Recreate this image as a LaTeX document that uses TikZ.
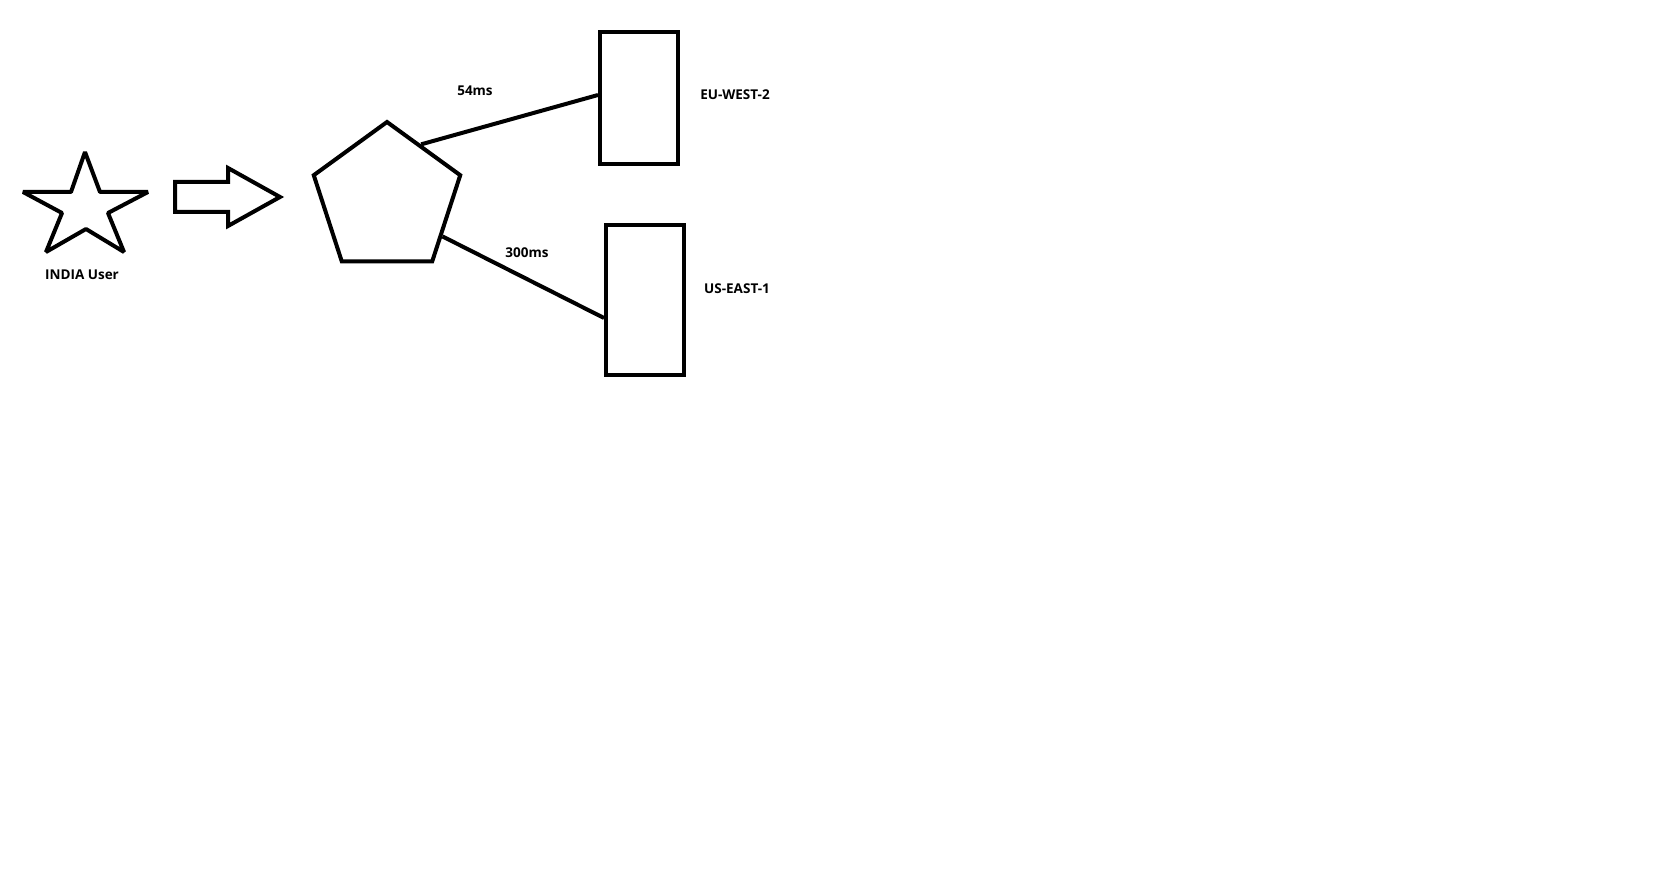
\documentclass[tikz,border=0pt]{standalone}
\usepackage{fontspec}
\setmainfont{Open Sans}
\usetikzlibrary{shapes.geometric}

\begin{document}
\begin{tikzpicture}[x=1pt,y=-1pt,line width=4pt,
    lbl/.style={font=\fontsize{13.5}{16}\selectfont\bfseries,inner sep=0pt}]
    \useasboundingbox[fill=white] (0,0) rectangle (1668,874);
    % user and arrow
    \draw[line join=bevel] (85,152) -- (100,192) -- (148,192) -- (108,213) -- (124,252)
        -- (86,229) -- (46,252) -- (62,213) -- (23,192) -- (71,192) -- cycle;
    \node[lbl] (user) at (82,275) {INDIA User};
    \draw (175,182) -- (228,182) -- (228,168) -- (280,197) -- (228,226) -- (228,212)
        -- (175,212) -- cycle;
    \begin{scope}[every node/.style={draw=black,inner sep=0pt}]
        \node[regular polygon,regular polygon sides=5,minimum size=154pt] (lb) at (387,199) {};
        \node[rectangle,minimum width=78pt,minimum height=132pt] (eu) at (639,98) {};
        \node[rectangle,minimum width=78pt,minimum height=150pt] (us) at (645,300) {};
    \end{scope}
    \draw (lb.58) -- ([yshift=3pt]eu.west);
    \draw (lb.-34) -- ([yshift=-18pt]us.west);
    \node[lbl] (euping) at (475,91) {54ms};
    \node[lbl] (usping) at (527,253) {300ms};
    \node[lbl] (euname) at (735,95) {EU-WEST-2};
    \node[lbl] (usname) at (737,289) {US-EAST-1};
\end{tikzpicture}
\end{document}
